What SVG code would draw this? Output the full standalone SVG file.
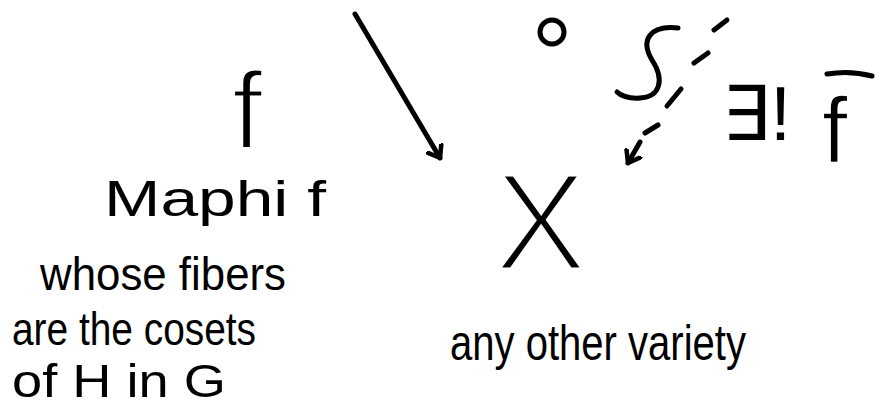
<svg xmlns="http://www.w3.org/2000/svg" width="888" height="406" viewBox="0 0 888 406">
<style>
.t{font-family:"Liberation Sans","DejaVu Sans",sans-serif;fill:#000}
.ln{fill:none;stroke:#000;stroke-width:5;stroke-linecap:round;stroke-linejoin:round}
</style>
<defs>
<marker id="hd" viewBox="-12 -10 14 20" refX="0" refY="0" markerWidth="14" markerHeight="20" markerUnits="userSpaceOnUse" orient="auto">
<path d="M-11,-8 L0,0 L-11,8" fill="none" stroke="#000" stroke-width="4.5" stroke-linecap="round" stroke-linejoin="round"/>
</marker>
</defs>
<rect width="888" height="406" fill="#fff"/>
<g id="connectors">
<path class="ln" d="M355,14 L440,158" marker-end="url(#hd)"/>
<path class="ln" d="M727,20 L714,30 M708,53 L694,63 M681,89 L667,106 M658,125 L645,133 M640,142 L628,163" marker-end="url(#hd)"/>
<path class="ln" d="M678,28 C650,25 640,40 652,60 C665,80 660,97 640,98 C628,99 620,95 617,92"/>
</g>
<g id="node-f">
<text class="t" x="232" y="148" font-size="110" stroke="#fff" stroke-width="3">f</text>
</g>
<g id="node-label-left">
<text class="t" x="104" y="216" font-size="50" textLength="222" lengthAdjust="spacingAndGlyphs">Maphi f</text>
<text class="t" x="40" y="290" font-size="46" textLength="246" lengthAdjust="spacingAndGlyphs">whose fibers</text>
<text class="t" x="12" y="345" font-size="46" textLength="244" lengthAdjust="spacingAndGlyphs">are the cosets</text>
<text class="t" x="12" y="397" font-size="46" textLength="214" lengthAdjust="spacingAndGlyphs">of H in G</text>
</g>
<g id="node-o">
<circle class="ln" cx="552" cy="32" r="12"/>
</g>
<g id="node-X">
<text class="t" x="494" y="270" font-size="140" stroke="#fff" stroke-width="5">X</text>
<text class="t" x="450" y="360" font-size="50" textLength="296" lengthAdjust="spacingAndGlyphs">any other variety</text>
</g>
<g id="node-exists">
<text class="t" x="722" y="140" font-size="76">∃!</text>
<text class="t" x="822" y="162" font-size="92" stroke="#fff" stroke-width="1.5">f</text>
<path class="ln" d="M827,74 Q850,70 872,76"/>
</g>
</svg>
